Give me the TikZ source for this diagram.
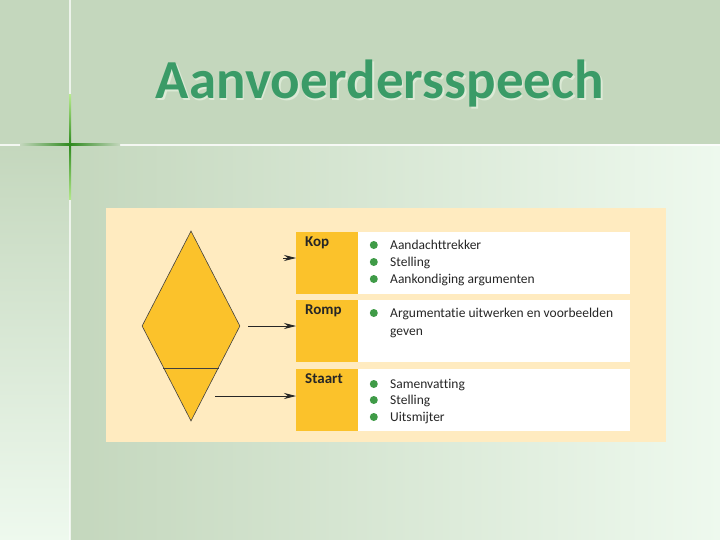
\documentclass[tikz,border=0pt]{standalone}
\usepackage{fontspec}
\setmainfont{Carlito}[Ligatures=NoCommon]
\usetikzlibrary{shapes.geometric, arrows.meta, calc}
\definecolor{bandgreen}{HTML}{C4D7BD}
\definecolor{paleside}{HTML}{EEF9EE}
\definecolor{titlegreen}{HTML}{3A9B67}
\definecolor{titleshade}{HTML}{DCEAD6}
\definecolor{glowgreen}{HTML}{2F8A1F}
\definecolor{glowlight}{HTML}{B5EA8C}
\definecolor{cream}{HTML}{FFEBC0}
\definecolor{gold}{HTML}{FBC22B}
\definecolor{dotgreen}{HTML}{3F9B47}

\begin{document}
\begin{tikzpicture}[x=1pt, y=-1pt,
  title/.style={anchor=base, inner sep=0pt, font=\fontsize{55}{60}\selectfont\bfseries},
  head/.style={fill=gold, anchor=north west, inner xsep=9pt, inner ysep=0pt, text width=44pt, align=left, text height=14pt, text depth=48pt, font=\fontsize{15}{17}\selectfont\bfseries, text=black!85},
  list/.style={fill=white, anchor=north west, minimum width=272pt, minimum height=62pt, inner sep=0pt},
  bul/.style={circle, fill=dotgreen, minimum size=8pt, inner sep=0pt},
  itemnext/.style={anchor=base west, inner sep=0pt, text height=10pt, text depth=2pt, font=\fontsize{13.5}{16}\selectfont, text=black!85},
  item/.style={itemnext, label={[bul, label distance=12pt]left:{}}},
  arr/.style={-{Stealth[length=12pt, width=6pt]}, line width=0.8pt, black!85}]
  \useasboundingbox (0,0) rectangle (720,540);
  % slide background
  \fill[bandgreen] (0,0) rectangle (720,145);
  \shade[left color=bandgreen, right color=paleside] (70,145) rectangle (720,540);
  \shade[top color=bandgreen, bottom color=paleside] (0,145) rectangle (70,540);
  \draw[white, line width=1.5pt, opacity=0.7] (70,0) -- (70,540);
  \draw[white, line width=2pt, opacity=0.8] (0,145) -- (720,145);
  \shade[left color=bandgreen, right color=glowgreen] (20,144) rectangle (70,146);
  \shade[left color=glowgreen, right color=bandgreen] (70,144) rectangle (120,146);
  \shade[top color=glowlight, bottom color=glowgreen] (69,95) rectangle (71,145);
  \shade[top color=glowgreen, bottom color=glowlight] (69,145) rectangle (71,200);
  \node[title, text=titleshade] (titleshadow) at (381.5,100.5) {Aanvoerdersspeech};
  \node[title, text=titlegreen] (title) at (380,99) {Aanvoerdersspeech};
  % panel
  \fill[cream] (106,208) rectangle (666,442);
  \node[diamond, fill=gold, draw=black!75, line width=0.6pt, minimum width=98pt, minimum height=190pt, inner sep=0pt] (speechshape) at (191,326) {};
  \coordinate (cutleft) at ($(speechshape.south)!0.558!(speechshape.west)$);
  \coordinate (cutright) at ($(speechshape.south)!0.558!(speechshape.east)$);
  \draw[black!75, line width=0.8pt] (cutleft) -- (cutright);
  \node[head] (kop) at (296,232) {Kop};
  \node[list] (koplist) at (358,232) {};
  \node[head] (romp) at (296,300) {Romp};
  \node[list] (romplist) at (358,300) {};
  \node[head] (staart) at (296,369) {Staart};
  \node[list] (staartlist) at (358,369) {};
  \node[item] (kop1) at (390,249) {Aandachttrekker};
  \node[item] (kop2) at (390,266) {Stelling};
  \node[item] (kop3) at (390,283) {Aankondiging argumenten};
  \node[item] (romp1) at (390,317) {Argumentatie uitwerken en voorbeelden};
  \node[itemnext] (romp2) at (390,335) {geven};
  \node[item] (staart1) at (390,388) {Samenvatting};
  \node[item] (staart2) at (390,404) {Stelling};
  \node[item] (staart3) at (390,421) {Uitsmijter};
  \coordinate (kopstart) at (283,258);
  \coordinate (rompstart) at (248,326);
  \coordinate (staartstart) at (215,396);
  \draw[arr] (kopstart) -- (kopstart -| kop.west);
  \draw[arr] (rompstart) -- (rompstart -| romp.west);
  \draw[arr] (staartstart) -- (staartstart -| staart.west);
\end{tikzpicture}
\end{document}
